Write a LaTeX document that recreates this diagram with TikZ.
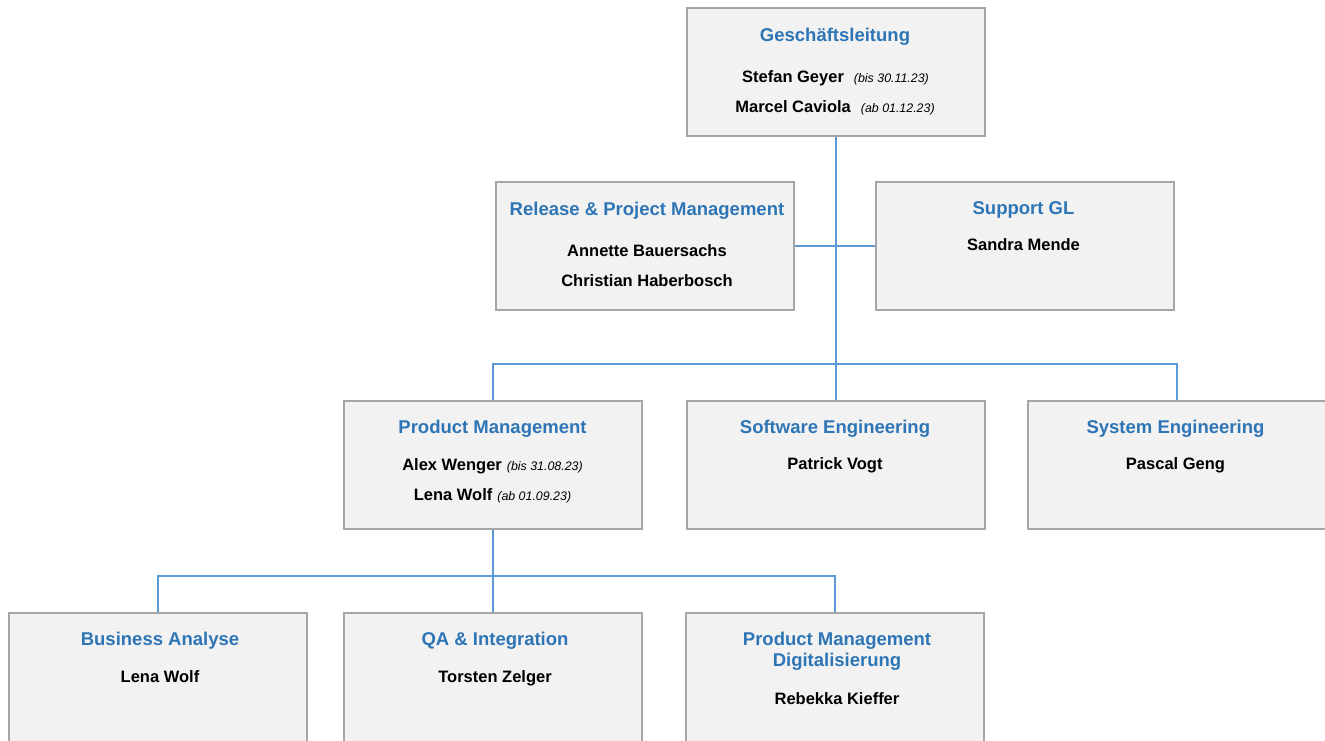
\documentclass[tikz,border=0pt]{standalone}
\usepackage{fontspec}
\setmainfont{Liberation Sans}
\usetikzlibrary{backgrounds}
\definecolor{boxfill}{RGB}{242,242,242}
\definecolor{boxline}{RGB}{166,166,166}
\definecolor{titleblue}{RGB}{46,117,182}
\definecolor{linkblue}{RGB}{91,155,213}
\newcommand{\ttlfont}{\fontsize{18.5}{22}\selectfont\bfseries}
\newcommand{\nmfont}{\fontsize{16.5}{20}\selectfont\bfseries}
\newcommand{\dtfont}{\fontsize{12.4}{15}\selectfont\mdseries\itshape}
\tikzset{
  orgbox/.style={draw=boxline, fill=boxfill, line width=2pt, anchor=north west,
    minimum width=298pt, minimum height=128pt, inner sep=0pt},
  lowbox/.style={orgbox, minimum height=150pt},
  ttl/.style={anchor=base, inner sep=0pt, text=titleblue, font=\ttlfont},
  nm/.style={anchor=base, inner sep=0pt, text=black, font=\nmfont},
  link/.style={draw=linkblue, line width=2pt}
}
\begin{document}
\begin{tikzpicture}[x=1pt,y=-1pt]
\useasboundingbox (0,0) rectangle (1325,740);
\clip (0,0) rectangle (1325,740);
% boxes
\node[orgbox] (gl)  at (686,7) {};
\node[orgbox] (rpm) at (495,181) {};
\node[orgbox] (sgl) at (875,181) {};
\node[orgbox] (pm)  at (343,400) {};
\node[orgbox] (sw)  at (686,400) {};
\node[orgbox] (sys) at (1027,400) {};
\node[lowbox] (ba)  at (8,612) {};
\node[lowbox] (qa)  at (343,612) {};
\node[lowbox] (pmd) at (685,612) {};
% texts
\node[ttl] (gl-t) at (835,41.5) {Geschäftsleitung};
\node[nm] (gl-n1) at (835.5,82.5) {Stefan Geyer\hspace{10pt}{\dtfont (bis 30.11.23)}};
\node[nm] (gl-n2) at (835,112) {Marcel Caviola\hspace{10pt}{\dtfont (ab 01.12.23)}};
\node[ttl] (rpm-t) at (647,215.5) {Release \& Project Management};
\node[nm] (rpm-n1) at (647,256) {Annette Bauersachs};
\node[nm] (rpm-n2) at (647,286) {Christian Haberbosch};
\node[ttl] (sgl-t) at (1023.5,214.5) {Support GL};
\node[nm] (sgl-n1) at (1023.5,250) {Sandra Mende};
\node[ttl] (pm-t) at (492.5,433.5) {Product Management};
\node[nm] (pm-n1) at (492.5,470) {Alex Wenger\hspace{5pt}{\dtfont (bis 31.08.23)}};
\node[nm] (pm-n2) at (492.5,500) {Lena Wolf\hspace{5pt}{\dtfont (ab 01.09.23)}};
\node[ttl] (sw-t) at (835,433.5) {Software Engineering};
\node[nm] (sw-n1) at (835,469.5) {Patrick Vogt};
\node[ttl] (sys-t) at (1175.5,433.5) {System Engineering};
\node[nm] (sys-n1) at (1175.5,469.5) {Pascal Geng};
\node[ttl] (ba-t) at (160,645.5) {Business Analyse};
\node[nm] (ba-n1) at (160,682) {Lena Wolf};
\node[ttl] (qa-t) at (495,645.5) {QA \& Integration};
\node[nm] (qa-n1) at (495,682) {Torsten Zelger};
\node[ttl] (pmd-t1) at (837,645.5) {Product Management};
\node[ttl] (pmd-t2) at (837,666.5) {Digitalisierung};
\node[nm] (pmd-n1) at (837,704) {Rebekka Kieffer};
% connectors
\coordinate (bus1) at (835,364);
\coordinate (bus2) at (492,576);
\begin{pgfonlayer}{background}
\path[link] (gl.south) -- (sw.north);
\path[link] (rpm.east) -- (sgl.west);
\path[link] (pm.north) |- (bus1) -| (sys.north);
\path[link] (pm.south) -- (qa.north);
\path[link] (ba.north) |- (bus2) -| (pmd.north);
\end{pgfonlayer}
\end{tikzpicture}
\end{document}
